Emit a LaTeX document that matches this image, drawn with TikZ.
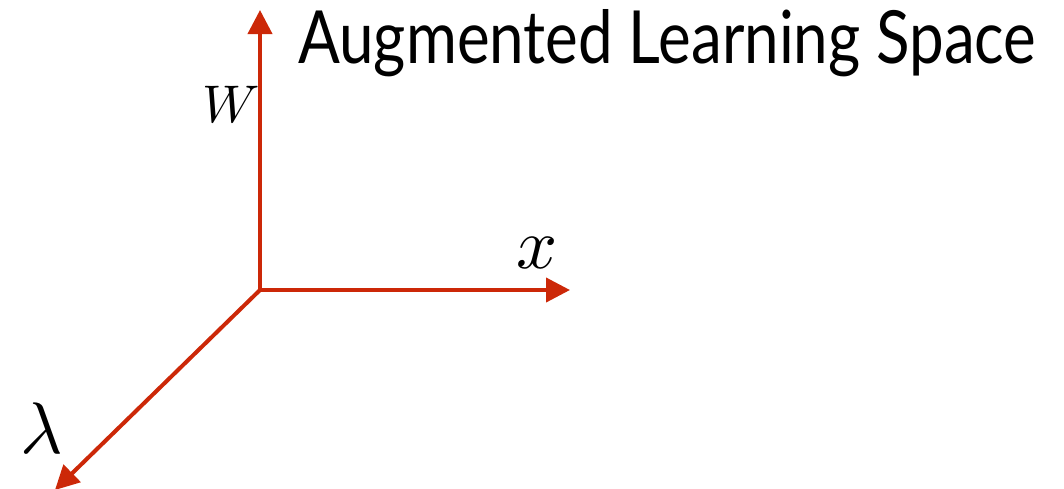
\documentclass[tikz,border=0pt]{standalone}
\usepackage{fontspec}
\setmainfont{Lato}
\usetikzlibrary{arrows.meta}
\definecolor{axisred}{RGB}{204,40,8}
\begin{document}
\begin{tikzpicture}[x=1pt,y=-1pt,
  axis/.style={draw=axisred, line width=4pt, -{Triangle[length=24pt,width=24pt]}},
  lbl/.style={inner sep=0pt, text=black}]
\useasboundingbox (0,0) rectangle (1064,488);
\coordinate (O) at (260,290);
\coordinate (Oh) at (258,290);
\coordinate (Ov) at (260,292);
\coordinate (wend) at (260,10);
\coordinate (xend) at (570,290);
\coordinate (lend) at (55,490);
\draw[axis] (Ov) -- (wend);
\draw[axis] (Oh) -- (xend);
\draw[axis] (O) -- (lend);
\node[lbl, anchor=base west] (title) at (298,63) {\resizebox{738pt}{54pt}{Augmented Learning Space}};
\node[lbl] (xl) at (537,253) {\scalebox{7.2}{$x$}};
\node[lbl] (wl) at (231,104) {\scalebox{5.3}{$W$}};
\node[lbl] (ll) at (42,428) {\scalebox{7.3}{$\lambda$}};
\end{tikzpicture}
\end{document}
